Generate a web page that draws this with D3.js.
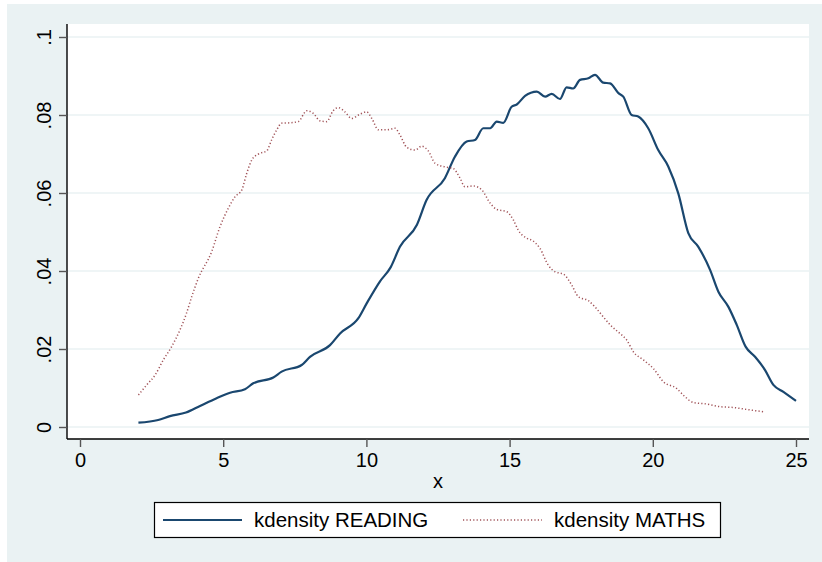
<!DOCTYPE html>
<html lang="en">
<head>
    <meta charset="UTF-8">
    <title>kdensity READING / MATHS</title>
    <script src="https://d3js.org/d3.v7.min.js"></script>
    <style>
        body { margin: 0; background: #ffffff; }
        text { font-family: "Liberation Sans", Arial, sans-serif; fill: #000; }
        .grid line { stroke: #eaf2f3; stroke-width: 1.6; }
        .axis path { stroke: #000; stroke-width: 1.4; }
        .axis line { stroke: #555; stroke-width: 1.4; }
    </style>
</head>
<body>
    <svg width="822" height="562"></svg>
    <script>
        // x axis ticks and y axis ticks
        const xTicks = [0, 5, 10, 15, 20, 25];
        const yTicks = [0, 0.02, 0.04, 0.06, 0.08, 0.1];
        const yTickLabels = ["0", ".02", ".04", ".06", ".08", ".1"];

        // kdensity READING
        const readingX = [2.04, 2.73, 3.14, 3.70, 4.19, 4.77, 5.24, 5.76, 6.05, 6.75, 7.04, 7.74, 8.03, 8.73,
            9.08, 9.72, 10.01, 10.47, 10.85, 11.17, 11.76, 12.10, 12.74, 13.09, 13.50, 13.79, 14.08, 14.32,
            14.55, 14.78, 15.07, 15.25, 15.54, 15.95, 16.24, 16.47, 16.76, 16.99, 17.22, 17.46, 17.75,
            17.98, 18.27, 18.51, 18.80, 18.97, 19.26, 19.49, 19.84, 20.19, 20.54, 20.89, 21.24, 21.59,
            22.00, 22.29, 22.64, 22.93, 23.24, 23.57, 23.92, 24.21, 24.56, 25.00];
        const readingY = [0.0011, 0.0018, 0.0028, 0.0037, 0.0054, 0.0074, 0.0088, 0.0097, 0.0112, 0.0127,
            0.0142, 0.0159, 0.0180, 0.0210, 0.0240, 0.0279, 0.0317, 0.0373, 0.0410, 0.0462, 0.0518, 0.0582,
            0.0638, 0.0693, 0.0732, 0.0736, 0.0766, 0.0766, 0.0783, 0.0780, 0.0821, 0.0827, 0.0849, 0.0860,
            0.0847, 0.0854, 0.0841, 0.0871, 0.0868, 0.0890, 0.0894, 0.0903, 0.0883, 0.0881, 0.0856, 0.0847,
            0.0800, 0.0796, 0.0766, 0.0710, 0.0668, 0.0599, 0.0497, 0.0462, 0.0403, 0.0347, 0.0308, 0.0262,
            0.0206, 0.0180, 0.0146, 0.0108, 0.0090, 0.0067];

        // kdensity MATHS
        const mathsX = [2.04, 2.33, 2.62, 2.91, 3.20, 3.49, 3.72, 3.90, 4.13, 4.60, 4.89, 5.18, 5.41, 5.65,
            5.82, 6.00, 6.23, 6.52, 6.69, 6.87, 7.04, 7.33, 7.62, 7.92, 8.15, 8.38, 8.61, 8.84, 9.02, 9.25,
            9.49, 9.72, 10.01, 10.19, 10.42, 10.71, 11.00, 11.17, 11.41, 11.70, 11.93, 12.16, 12.40, 12.74,
            13.03, 13.27, 13.44, 13.73, 14.03, 14.32, 14.55, 14.90, 15.13, 15.30, 15.60, 15.80, 16.06,
            16.35, 16.59, 16.88, 17.17, 17.40, 17.75, 17.98, 18.22, 18.51, 18.85, 19.09, 19.32, 19.67,
            20.02, 20.37, 20.83, 21.12, 21.41, 21.88, 22.35, 22.81, 23.28, 23.86];
        const mathsY = [0.0082, 0.0108, 0.0133, 0.0172, 0.0206, 0.0249, 0.0292, 0.0334, 0.0381, 0.0450,
            0.0514, 0.0561, 0.0590, 0.0608, 0.0650, 0.0685, 0.0700, 0.0708, 0.0736, 0.0762, 0.0779, 0.0780,
            0.0783, 0.0811, 0.0804, 0.0785, 0.0783, 0.0811, 0.0819, 0.0808, 0.0791, 0.0800, 0.0808, 0.0791,
            0.0762, 0.0762, 0.0766, 0.0749, 0.0717, 0.0710, 0.0720, 0.0708, 0.0676, 0.0667, 0.0663, 0.0638,
            0.0616, 0.0618, 0.0608, 0.0574, 0.0558, 0.0552, 0.0531, 0.0505, 0.0484, 0.0478, 0.0458, 0.0415,
            0.0398, 0.0392, 0.0364, 0.0334, 0.0324, 0.0308, 0.0287, 0.0262, 0.0240, 0.0223, 0.0193, 0.0172,
            0.0150, 0.0116, 0.0099, 0.0078, 0.0063, 0.0059, 0.0052, 0.0050, 0.0045, 0.0039];

        const seriesNames = ["kdensity READING", "kdensity MATHS"];
        const colors = ["#1a476f", "#90353b"];

        const svg = d3.select("svg");

        // outer background and plot region
        svg.append("rect").attr("x", 7).attr("y", 4).attr("width", 815).attr("height", 558)
            .attr("fill", "#eaf2f3");
        svg.append("rect").attr("x", 67).attr("y", 24).attr("width", 742).attr("height", 415)
            .attr("fill", "#ffffff");

        const x = d3.scaleLinear().domain([0, 25]).range([80, 796]);
        const y = d3.scaleLinear().domain([0, 0.1]).range([427, 37]);

        // grid lines
        svg.append("g")
            .attr("class", "grid")
            .selectAll("line")
            .data(yTicks)
            .enter().append("line")
            .attr("x1", 67).attr("x2", 809)
            .attr("y1", d => y(d)).attr("y2", d => y(d));

        // axes
        const xAxis = svg.append("g")
            .attr("class", "axis")
            .attr("transform", "translate(0,439)")
            .call(d3.axisBottom(x).tickValues(xTicks).tickSize(8).tickPadding(6).tickSizeOuter(0));
        xAxis.select(".domain").attr("d", "M67,0H809");
        xAxis.selectAll(".tick text").style("font-size", "20px").attr("font-family", null);

        const yAxis = svg.append("g")
            .attr("class", "axis")
            .attr("transform", "translate(67,0)")
            .call(d3.axisLeft(y).tickValues(yTicks).tickSize(8).tickSizeOuter(0)
                .tickFormat((d, i) => yTickLabels[i]));
        yAxis.select(".domain").attr("d", "M0,24V439");
        yAxis.selectAll(".tick text")
            .attr("x", null).attr("dy", null)
            .attr("text-anchor", "middle")
            .attr("transform", "translate(-16,0) rotate(-90)")
            .style("font-size", "20px").attr("font-family", null);

        // x title
        svg.append("text")
            .attr("x", 438).attr("y", 488)
            .attr("text-anchor", "middle")
            .style("font-size", "20px")
            .text("x");

        // density lines
        const line = d3.line()
            .x(d => x(d[0]))
            .y(d => y(d[1]))
            .curve(d3.curveMonotoneX);

        svg.append("path")
            .datum(readingX.map((v, i) => [v, readingY[i]]))
            .attr("fill", "none")
            .attr("stroke", colors[0])
            .attr("stroke-width", 2.2)
            .attr("d", line);

        svg.append("path")
            .datum(mathsX.map((v, i) => [v, mathsY[i]]))
            .attr("fill", "none")
            .attr("stroke", colors[1])
            .attr("stroke-width", 1.5)
            .attr("stroke-dasharray", "1.2,2.2")
            .attr("stroke-opacity", 0.85)
            .attr("d", line);

        // legend
        const legend = svg.append("g");
        legend.append("rect")
            .attr("x", 154.5).attr("y", 502.5).attr("width", 566).attr("height", 35)
            .attr("fill", "#ffffff").attr("stroke", "#000").attr("stroke-width", 1.2);

        const legendX = [163, 463];
        seriesNames.forEach(function(name, i) {
            legend.append("line")
                .attr("x1", legendX[i]).attr("x2", legendX[i] + 79)
                .attr("y1", 520).attr("y2", 520)
                .attr("stroke", colors[i])
                .attr("stroke-width", i === 0 ? 2.2 : 1.5)
                .attr("stroke-dasharray", i === 0 ? null : "1.2,2.2")
                .attr("stroke-opacity", i === 0 ? 1 : 0.85);
            legend.append("text")
                .attr("x", legendX[i] + 91).attr("y", 527)
                .style("font-size", "20.5px")
                .text(name);
        });
    </script>
</body>
</html>
